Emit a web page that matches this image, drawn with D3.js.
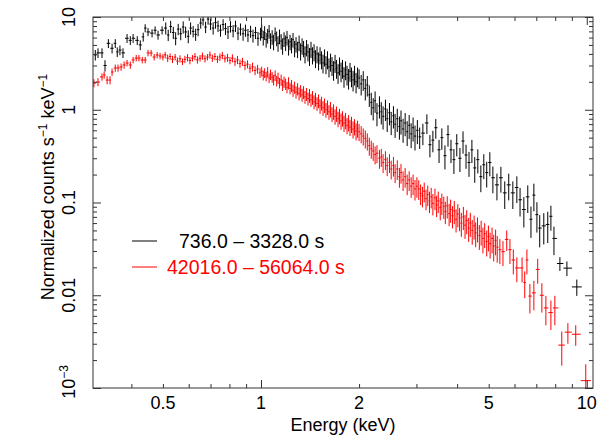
<!DOCTYPE html>
<html>
<head>
    <meta charset="UTF-8">
    <title>Spectrum</title>
    <script src="https://cdn.jsdelivr.net/npm/d3@7/dist/d3.min.js"></script>
    <style>
        body { margin: 0; background: #fff; }
        text { font-family: "Liberation Sans", Arial, sans-serif; }
    </style>
</head>
<body>
    <script>
        // early interval, 736.0 - 3328.0 s (energy in keV, counts s-1 keV-1, fractional error)
        var earlyE = [0.310, 0.316, 0.325, 0.332, 0.340, 0.349, 0.357, 0.362, 0.369, 0.377, 0.388, 0.397, 0.405, 0.417, 0.426, 0.435, 0.441, 0.450, 0.463, 0.473, 0.483, 0.497,
            0.510, 0.519, 0.528, 0.538, 0.547, 0.557, 0.567, 0.577, 0.587, 0.598, 0.608, 0.619, 0.630, 0.641, 0.653, 0.664, 0.676, 0.688, 0.700, 0.713, 0.725, 0.738, 0.751, 0.765, 0.778, 0.792, 0.806, 0.821, 0.835, 0.850, 0.865, 0.881, 0.896, 0.912, 0.929, 0.945, 0.962, 0.979, 0.997,
            1.005, 1.016, 1.026, 1.037, 1.048, 1.059, 1.070, 1.082, 1.093, 1.105, 1.117, 1.128, 1.140, 1.153, 1.165, 1.177, 1.190, 1.202, 1.215, 1.228, 1.241, 1.254, 1.268, 1.281, 1.295, 1.309, 1.323, 1.337, 1.351, 1.365, 1.380, 1.394, 1.409, 1.424, 1.439, 1.455, 1.470, 1.486, 1.502, 1.518, 1.534, 1.550, 1.567, 1.583, 1.600, 1.617, 1.635, 1.652, 1.670, 1.688, 1.706, 1.724, 1.742, 1.761, 1.779, 1.798, 1.818, 1.837, 1.857, 1.876, 1.896, 1.917, 1.937, 1.958, 1.979,
            2.00, 2.03, 2.06, 2.09, 2.12, 2.15, 2.18, 2.21, 2.24, 2.27, 2.31, 2.34, 2.37, 2.41, 2.44, 2.48, 2.51, 2.55, 2.58, 2.62, 2.66, 2.69, 2.73, 2.77, 2.81, 2.85, 2.89, 2.93, 2.97, 3.02,
            3.07, 3.14, 3.23, 3.30, 3.37, 3.44, 3.52, 3.59, 3.67, 3.75, 3.83, 3.91, 3.99, 4.08, 4.17, 4.26, 4.35, 4.44, 4.53, 4.63, 4.73, 4.83, 4.93, 5.04, 5.15, 5.30, 5.45, 5.60, 5.76, 5.93, 6.10, 6.24, 6.41, 6.59, 6.74, 6.88, 7.03, 7.17, 7.38, 7.59, 7.76, 7.93, 8.27, 8.69, 9.32]
        var earlyV = [3.9, 4.1, 4.1, 3.0, 5.2, 4.6, 5.2, 4.2, 4.4, 4.1, 5.9, 5.6, 5.9, 5.6, 5.0, 6.1, 7.6, 6.9, 6.7, 7.2, 6.4, 7.2,
            7.6, 6.4, 7.9, 6.8, 5.9, 7.4, 6.6, 7.8, 6.9, 6.2, 7.6, 7.0, 6.5, 7.3, 8.6, 9.3, 7.8, 9.5, 8.4, 7.6, 8.7, 8.0, 7.2, 8.3, 7.5, 6.9, 7.9, 7.1, 8.0, 6.7, 7.4, 6.6, 7.2, 6.4, 7.0, 6.3, 6.8, 5.9, 6.6,
            7.1, 6.0, 6.8, 5.7, 6.3, 7.0, 5.6, 6.1, 5.4, 6.6, 5.9, 5.2, 6.2, 5.5, 4.9, 5.8, 5.3, 6.0, 4.8, 5.4, 5.0, 5.7, 4.6, 5.1, 4.5, 5.3, 4.3, 4.9, 4.6, 4.0, 4.7, 4.2, 3.8, 4.5, 3.9, 4.2, 3.6, 4.0, 3.4, 3.9, 3.5, 3.2, 3.7, 3.1, 3.5, 2.9, 3.3, 3.0, 2.7, 3.2, 2.8, 2.5, 3.0, 2.6, 2.8, 2.3, 2.7, 2.4, 2.2, 2.6, 2.3, 2.1, 2.4, 2.0, 2.3,
            2.2, 1.9, 2.1, 1.7, 1.85, 1.45, 1.2, 1.05, 1.25, 0.92, 1.1, 0.95, 0.85, 1.02, 0.8, 0.93, 0.74, 0.86, 0.70, 0.80, 0.66, 0.76, 0.62, 0.72, 0.58, 0.68, 0.55, 0.64, 0.52, 0.60,
            0.51, 0.56, 0.72, 0.42, 0.47, 0.64, 0.37, 0.50, 0.32, 0.54, 0.37, 0.29, 0.43, 0.30, 0.46, 0.325, 0.27, 0.37, 0.236, 0.29, 0.19, 0.255, 0.21, 0.27, 0.185, 0.155, 0.185, 0.127, 0.155, 0.127, 0.145, 0.107, 0.084, 0.115, 0.066, 0.12, 0.074, 0.053, 0.056, 0.058, 0.071, 0.041, 0.022, 0.0196, 0.0123]
        var earlyErr = [0.13, 0.12, 0.12, 0.14, 0.11, 0.12, 0.11, 0.12, 0.12, 0.12, 0.11, 0.11, 0.11, 0.11, 0.12, 0.11, 0.10, 0.10, 0.10, 0.10, 0.11, 0.10,
            0.15, 0.14, 0.15, 0.15, 0.16, 0.14, 0.15, 0.15, 0.14, 0.16, 0.15, 0.14, 0.15, 0.15, 0.13, 0.13, 0.14, 0.13, 0.14, 0.15, 0.14, 0.14, 0.15, 0.14, 0.15, 0.16, 0.14, 0.15, 0.14, 0.16, 0.15, 0.16, 0.15, 0.16, 0.15, 0.16, 0.15, 0.17, 0.16,
            0.17, 0.18, 0.17, 0.18, 0.18, 0.17, 0.19, 0.18, 0.19, 0.17, 0.18, 0.19, 0.18, 0.19, 0.2, 0.18, 0.19, 0.18, 0.2, 0.19, 0.19, 0.18, 0.2, 0.19, 0.2, 0.19, 0.21, 0.2, 0.2, 0.21, 0.2, 0.21, 0.22, 0.2, 0.21, 0.21, 0.22, 0.21, 0.22, 0.21, 0.22, 0.23, 0.21, 0.22, 0.22, 0.23, 0.22, 0.23, 0.24, 0.22, 0.23, 0.24, 0.22, 0.24, 0.23, 0.25, 0.23, 0.24, 0.25, 0.23, 0.24, 0.25, 0.24, 0.25, 0.24,
            0.24, 0.25, 0.24, 0.26, 0.25, 0.26, 0.27, 0.27, 0.26, 0.28, 0.27, 0.27, 0.28, 0.26, 0.28, 0.27, 0.28, 0.27, 0.29, 0.28, 0.28, 0.29, 0.29, 0.28, 0.3, 0.29, 0.3, 0.29, 0.3, 0.29,
            0.26, 0.26, 0.24, 0.27, 0.26, 0.24, 0.28, 0.26, 0.29, 0.26, 0.28, 0.3, 0.27, 0.29, 0.27, 0.29, 0.3, 0.28, 0.31, 0.29, 0.32, 0.3, 0.31, 0.29, 0.32, 0.32, 0.31, 0.33, 0.32, 0.33, 0.32, 0.34, 0.36, 0.33, 0.37, 0.33, 0.36, 0.38, 0.37, 0.37, 0.3, 0.34, 0.17, 0.18, 0.2]

        // late interval, 42016.0 - 56064.0 s
        var lateE = [0.307, 0.316, 0.325, 0.330, 0.337, 0.344, 0.349, 0.357, 0.364, 0.372, 0.380, 0.388, 0.397, 0.405, 0.414, 0.422, 0.432, 0.441, 0.450, 0.460, 0.470, 0.480, 0.490, 0.500,
            0.508, 0.517, 0.526, 0.535, 0.545, 0.554, 0.564, 0.574, 0.584, 0.595, 0.605, 0.616, 0.627, 0.638, 0.650, 0.661, 0.673, 0.685, 0.697, 0.709, 0.722, 0.735, 0.748, 0.761, 0.775, 0.789, 0.803, 0.817, 0.832, 0.847, 0.862, 0.877, 0.893, 0.909, 0.925, 0.942, 0.959, 0.976, 0.993,
            1.005, 1.016, 1.026, 1.037, 1.048, 1.059, 1.070, 1.082, 1.093, 1.105, 1.117, 1.128, 1.140, 1.153, 1.165, 1.177, 1.190, 1.202, 1.215, 1.228, 1.241, 1.254, 1.268, 1.281, 1.295, 1.309, 1.323, 1.337, 1.351, 1.365, 1.380, 1.394, 1.409, 1.424, 1.439, 1.455, 1.470, 1.486, 1.502, 1.518, 1.534, 1.550, 1.567, 1.583, 1.600, 1.617, 1.635, 1.652, 1.670, 1.688, 1.706, 1.724, 1.742, 1.761, 1.779, 1.798, 1.818, 1.837, 1.857, 1.876, 1.896, 1.917, 1.937, 1.958, 1.979,
            2.00, 2.03, 2.06, 2.09, 2.12, 2.15, 2.18, 2.21, 2.24, 2.27, 2.31, 2.34, 2.37, 2.41, 2.44, 2.48, 2.51, 2.55, 2.58, 2.62, 2.66, 2.69, 2.73, 2.77, 2.81, 2.85, 2.89, 2.93, 2.97, 3.01,
            3.05, 3.09, 3.13, 3.17, 3.21, 3.25, 3.29, 3.33, 3.37, 3.42, 3.46, 3.50, 3.55, 3.59, 3.64, 3.68, 3.73, 3.78, 3.82, 3.87, 3.92, 3.97, 4.02, 4.07, 4.12, 4.18, 4.23, 4.28, 4.34, 4.39, 4.45, 4.51, 4.56, 4.62, 4.68, 4.74, 4.80, 4.86, 4.93, 4.99, 5.05, 5.12, 5.18, 5.25, 5.31,
            5.41, 5.53, 5.68, 5.81, 5.95, 6.10, 6.33, 6.45, 6.55, 6.69, 6.88, 7.07, 7.28, 7.49, 7.76, 7.98, 8.38, 8.75, 9.25, 9.93]
        var lateV = [1.94, 1.99, 2.26, 2.37, 2.09, 2.09, 2.55, 2.82, 2.82, 2.89, 3.04, 3.19, 3.04, 3.44, 3.61, 3.61, 3.44, 3.44, 4.09, 4.09, 3.70, 3.89, 3.80, 3.70,
            3.9, 3.6, 3.75, 3.5, 3.7, 3.35, 3.55, 3.3, 3.5, 3.65, 3.4, 3.6, 3.75, 3.45, 3.6, 3.8, 3.55, 3.7, 3.9, 3.6, 3.75, 3.5, 3.7, 3.85, 3.55, 3.65, 3.4, 3.6, 3.3, 3.45, 3.15, 3.3, 3.0, 3.1, 2.8, 2.9, 2.65, 2.75, 2.5,
            2.6, 2.35, 2.5, 2.3, 2.55, 2.2, 2.4, 2.25, 2.1, 2.35, 2.05, 2.2, 1.95, 2.1, 1.85, 2.0, 1.9, 1.75, 1.95, 1.7, 1.82, 1.62, 1.75, 1.55, 1.68, 1.5, 1.6, 1.45, 1.55, 1.38, 1.48, 1.32, 1.43, 1.28, 1.36, 1.22, 1.3, 1.17, 1.25, 1.1, 1.18, 1.05, 1.12, 1.0, 1.07, 0.95, 1.02, 0.9, 0.96, 0.85, 0.91, 0.8, 0.86, 0.76, 0.81, 0.72, 0.77, 0.68, 0.73, 0.65, 0.7, 0.62, 0.66, 0.59, 0.63,
            0.58, 0.55, 0.52, 0.49, 0.46, 0.41, 0.38, 0.36, 0.33, 0.34, 0.30, 0.31, 0.27, 0.29, 0.25, 0.27, 0.23, 0.25, 0.21, 0.23, 0.19, 0.21, 0.175, 0.19, 0.16, 0.175, 0.15, 0.16, 0.14, 0.15,
            0.14, 0.125, 0.118, 0.132, 0.11, 0.122, 0.104, 0.115, 0.098, 0.112, 0.094, 0.104, 0.088, 0.099, 0.091, 0.080, 0.092, 0.076, 0.084, 0.072, 0.081, 0.066, 0.075, 0.068, 0.060, 0.070, 0.057, 0.064, 0.053, 0.060, 0.050, 0.056, 0.047, 0.053, 0.044, 0.049, 0.041, 0.046, 0.038, 0.043, 0.036, 0.041, 0.034, 0.039, 0.033,
            0.031, 0.0295, 0.040, 0.031, 0.024, 0.0197, 0.0197, 0.0137, 0.024, 0.0098, 0.0106, 0.019, 0.0100, 0.0073, 0.0065, 0.0073, 0.0029, 0.0040, 0.0038, 0.0012]
        var lateErr = [0.1, 0.1, 0.09, 0.09, 0.1, 0.1, 0.09, 0.09, 0.09, 0.09, 0.09, 0.08, 0.09, 0.08, 0.08, 0.08, 0.08, 0.08, 0.08, 0.08, 0.08, 0.08, 0.08, 0.08,
            0.08, 0.09, 0.08, 0.09, 0.08, 0.09, 0.09, 0.08, 0.09, 0.09, 0.09, 0.08, 0.09, 0.09, 0.08, 0.09, 0.09, 0.08, 0.09, 0.09, 0.09, 0.09, 0.09, 0.09, 0.09, 0.1, 0.09, 0.1, 0.1, 0.1, 0.1, 0.1, 0.11, 0.1, 0.11, 0.11, 0.11, 0.11, 0.12,
            0.12, 0.12, 0.12, 0.12, 0.13, 0.12, 0.13, 0.13, 0.13, 0.13, 0.13, 0.14, 0.13, 0.14, 0.14, 0.14, 0.14, 0.14, 0.15, 0.14, 0.15, 0.15, 0.15, 0.15, 0.15, 0.16, 0.15, 0.16, 0.16, 0.16, 0.16, 0.16, 0.17, 0.16, 0.17, 0.17, 0.17, 0.17, 0.17, 0.18, 0.17, 0.18, 0.18, 0.18, 0.18, 0.18, 0.19, 0.18, 0.19, 0.19, 0.19, 0.19, 0.19, 0.2, 0.19, 0.2, 0.2, 0.2, 0.2, 0.2, 0.2, 0.21, 0.2, 0.21, 0.21,
            0.21, 0.21, 0.21, 0.22, 0.21, 0.22, 0.22, 0.22, 0.22, 0.22, 0.23, 0.22, 0.23, 0.23, 0.23, 0.23, 0.23, 0.24, 0.23, 0.24, 0.24, 0.24, 0.24, 0.24, 0.25, 0.24, 0.25, 0.25, 0.25, 0.25,
            0.24, 0.25, 0.25, 0.24, 0.25, 0.25, 0.26, 0.25, 0.26, 0.26, 0.26, 0.26, 0.27, 0.26, 0.27, 0.27, 0.27, 0.27, 0.28, 0.27, 0.28, 0.28, 0.28, 0.28, 0.29, 0.28, 0.29, 0.29, 0.29, 0.29, 0.3, 0.29, 0.3, 0.3, 0.3, 0.3, 0.31, 0.3, 0.31, 0.31, 0.31, 0.31, 0.32, 0.31, 0.32,
            0.3, 0.3, 0.25, 0.3, 0.3, 0.3, 0.3, 0.32, 0.3, 0.35, 0.35, 0.3, 0.35, 0.35, 0.35, 0.35, 0.4, 0.25, 0.25, 0.5]

        var seriesNames = ['736.0 \u2013 3328.0 s', '42016.0 \u2013 56064.0 s']
        var seriesColors = ['#000000', '#ff0000']

        var xLabelVals = [0.5, 1, 2, 5, 10]
        var xLabelText = ['0.5', '1', '2', '5', '10']
        var xMajor = [1, 10]
        var xMinor = [0.4, 0.5, 0.6, 0.7, 0.8, 0.9, 2, 3, 4, 5, 6, 7, 8, 9]
        var yMajor = [0.001, 0.01, 0.1, 1, 10]
        var yLabelText = ['', '0.01', '0.1', '1', '10']

        var W = 606, H = 436
        var pLeft = 93, pRight = 593, pTop = 17, pBottom = 388

        var x = d3.scaleLog().domain([0.305, 10.45]).range([pLeft, pRight])
        var y = d3.scaleLog().domain([0.001, 10]).range([pBottom, pTop])

        var yMinor = []
        yMajor.slice(0, 4).forEach(function(d){
            for (var k = 2; k <= 9; k++) yMinor.push(d * k)
        })

        var svg = d3.select('body')
            .append('svg')
            .attr('width', W)
            .attr('height', H)

        svg.append('clipPath')
            .attr('id', 'plotclip')
            .append('rect')
            .attr('x', pLeft)
            .attr('y', pTop)
            .attr('width', pRight - pLeft)
            .attr('height', pBottom - pTop)

        function makePoints(E, V, err){
            return E.map(function(e, i){
                var prev = i > 0 ? E[i-1] : e * e / E[i+1]
                var next = i < E.length - 1 ? E[i+1] : e * e / E[i-1]
                return {
                    e: e, v: V[i],
                    elo: Math.sqrt(prev * e), ehi: Math.sqrt(e * next),
                    vlo: Math.max(V[i] * (1 - err[i]), 0.0005), vhi: V[i] * (1 + err[i])
                }
            })
        }

        var series = [makePoints(earlyE, earlyV, earlyErr), makePoints(lateE, lateV, lateErr)]

        var plot = svg.append('g').attr('clip-path', 'url(#plotclip)')

        series.forEach(function(pts, s){
            var g = plot.append('g')
                .attr('stroke', seriesColors[s])
                .attr('stroke-width', 1)

            g.selectAll('line.v')
                .data(pts)
                .enter()
                .append('line')
                .attr('class', 'v')
                .attr('x1', function(d){ return x(d.e) })
                .attr('x2', function(d){ return x(d.e) })
                .attr('y1', function(d){ return y(d.vlo) })
                .attr('y2', function(d){ return y(d.vhi) })

            g.selectAll('line.h')
                .data(pts)
                .enter()
                .append('line')
                .attr('class', 'h')
                .attr('x1', function(d){ return x(d.elo) })
                .attr('x2', function(d){ return x(d.ehi) })
                .attr('y1', function(d){ return y(d.v) })
                .attr('y2', function(d){ return y(d.v) })
        })

        // ticks, inside on all four sides
        function ticks(axis, vals, size, tr){
            var g = svg.append('g')
                .attr('transform', tr)
                .call(axis.tickValues(vals).tickSize(-size).tickSizeOuter(0).tickFormat(''))
            g.select('.domain').remove()
            g.selectAll('line').attr('stroke', '#333')
        }
        ticks(d3.axisBottom(x), xMinor, 4, 'translate(0,' + pBottom + ')')
        ticks(d3.axisBottom(x), xMajor, 8, 'translate(0,' + pBottom + ')')
        ticks(d3.axisTop(x), xMinor, 4, 'translate(0,' + pTop + ')')
        ticks(d3.axisTop(x), xMajor, 8, 'translate(0,' + pTop + ')')
        ticks(d3.axisLeft(y), yMinor, 4, 'translate(' + pLeft + ',0)')
        ticks(d3.axisLeft(y), yMajor, 8, 'translate(' + pLeft + ',0)')
        ticks(d3.axisRight(y), yMinor, 4, 'translate(' + pRight + ',0)')
        ticks(d3.axisRight(y), yMajor, 8, 'translate(' + pRight + ',0)')

        svg.append('rect')
            .attr('x', pLeft)
            .attr('y', pTop)
            .attr('width', pRight - pLeft)
            .attr('height', pBottom - pTop)
            .attr('fill', 'none')
            .attr('stroke', '#333')
            .attr('stroke-width', 1)

        // tick labels
        svg.selectAll('text.xl')
            .data(xLabelVals)
            .enter()
            .append('text')
            .attr('class', 'xl')
            .attr('x', function(d){ return x(d) })
            .attr('y', 409)
            .attr('text-anchor', 'middle')
            .attr('font-size', 18)
            .text(function(d, i){ return xLabelText[i] })

        var yl = svg.selectAll('text.yl')
            .data(yMajor)
            .enter()
            .append('text')
            .attr('class', 'yl')
            .attr('transform', function(d){ return 'translate(75,' + y(d) + ') rotate(-90)' })
            .attr('text-anchor', 'middle')
            .attr('font-size', 18)
            .text(function(d, i){ return yLabelText[i] })

        var lowLab = d3.select(yl.nodes()[0])
            .attr('transform', 'translate(75,' + (y(0.001) - 6) + ') rotate(-90)')
        lowLab.append('tspan').text('10')
        lowLab.append('tspan').attr('font-size', 12).attr('dy', -7).text('\u22123')

        // axis titles
        svg.append('text')
            .attr('x', (pLeft + pRight) / 2)
            .attr('y', 431)
            .attr('text-anchor', 'middle')
            .attr('font-size', 18)
            .text('Energy (keV)')

        var ylab = svg.append('text')
            .attr('transform', 'translate(54,187) rotate(-90)')
            .attr('text-anchor', 'middle')
            .attr('font-size', 18)
        ylab.append('tspan').text('Normalized counts s')
        ylab.append('tspan').attr('font-size', 12).attr('dy', -7).text('\u22121')
        ylab.append('tspan').attr('dy', 7).text(' keV')
        ylab.append('tspan').attr('font-size', 12).attr('dy', -7).text('\u22121')

        // legend
        var legX = [179, 167]
        seriesNames.forEach(function(name, i){
            var ly = 241 + i * 26
            svg.append('line')
                .attr('x1', 132)
                .attr('x2', 157)
                .attr('y1', ly)
                .attr('y2', ly)
                .attr('stroke', seriesColors[i])
                .attr('stroke-width', 1)
            svg.append('text')
                .attr('x', legX[i])
                .attr('y', ly + 7)
                .attr('font-size', 19.5)
                .attr('fill', seriesColors[i])
                .text(name)
        })
    </script>
</body>
</html>
